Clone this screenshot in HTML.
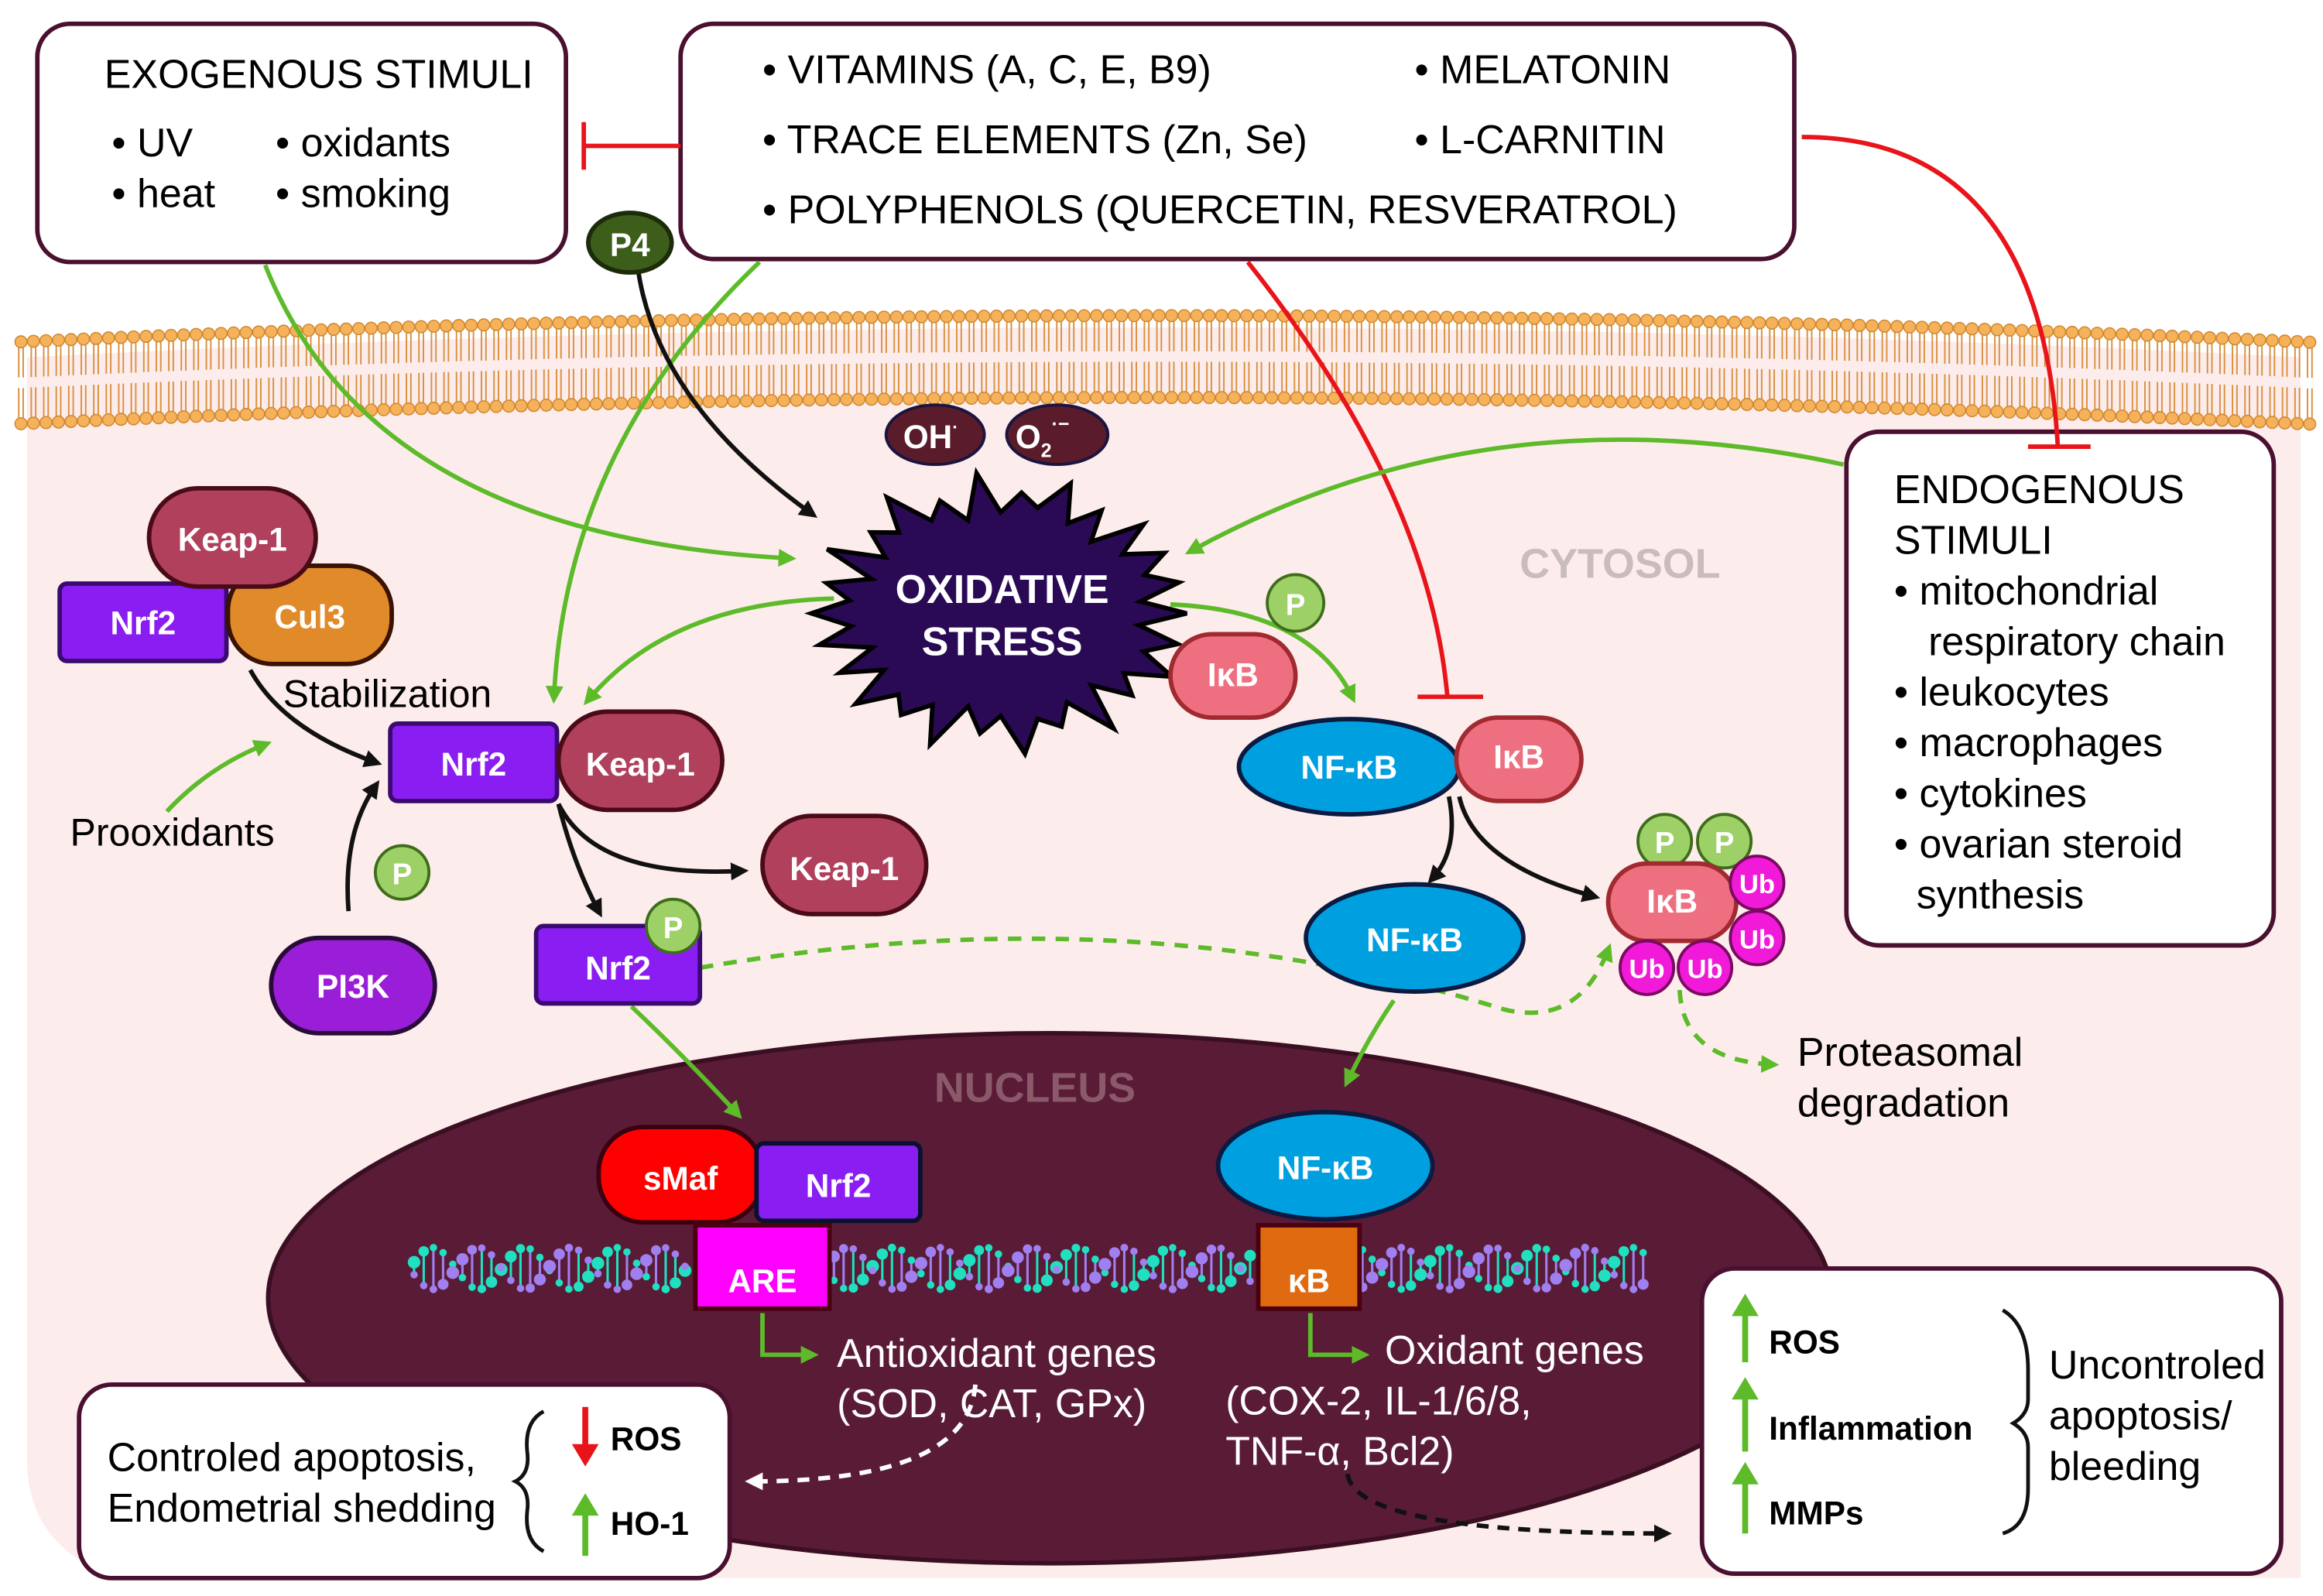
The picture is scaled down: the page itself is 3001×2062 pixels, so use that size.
<!DOCTYPE html>
<html><head><meta charset="utf-8"><style>
html,body{margin:0;padding:0;background:#fff}
svg{display:block}
text{font-family:"Liberation Sans",Arial,sans-serif}
.b{font-weight:bold}
</style></head><body>
<svg id="s" width="3001" height="2062" viewBox="0 0 1560 1072" xmlns="http://www.w3.org/2000/svg">
<defs>
<marker id="ag" viewBox="0 0 10 10" refX="6" refY="5" markerWidth="4" markerHeight="4" orient="auto"><path d="M0,0L10,5L0,10z" fill="#5dbb2a"/></marker>
<marker id="ak" viewBox="0 0 10 10" refX="6" refY="5" markerWidth="4" markerHeight="4" orient="auto"><path d="M0,0L10,5L0,10z" fill="#111"/></marker>
<marker id="aw" viewBox="0 0 10 10" refX="6" refY="5" markerWidth="4" markerHeight="4" orient="auto"><path d="M0,0L10,5L0,10z" fill="#fff"/></marker>
</defs>
<path d="M18,240 Q780,200 1545,240 L1545,1060 L80,1060 Q18,1040 18,980 Z" fill="#fdecec"/>
<g id="mem"></g>
<ellipse cx="705" cy="872" rx="525" ry="178" fill="#5a1b36" stroke="#3a0f22" stroke-width="3"/>
<text x="695" y="740" font-size="28" class="b" fill="#8a5a6a" text-anchor="middle">NUCLEUS</text>
<text x="1088" y="388" font-size="28" class="b" fill="#c9bcbc" text-anchor="middle">CYTOSOL</text>
<g id="dna"></g>

<rect x="25" y="16" width="355" height="160" rx="22" fill="#fff" stroke="#4a1030" stroke-width="3"/>
<g font-size="27">
<text x="70" y="59">EXOGENOUS STIMULI</text>
<text x="75" y="105">• UV</text>
<text x="185" y="105">• oxidants</text>
<text x="75" y="139">• heat</text>
<text x="185" y="139">• smoking</text>
</g>
<rect x="457" y="16" width="748" height="158" rx="22" fill="#fff" stroke="#4a1030" stroke-width="3"/>
<g font-size="27">
<text x="512" y="56">• VITAMINS (A, C, E, B9)</text>
<text x="512" y="103">• TRACE ELEMENTS (Zn, Se)</text>
<text x="512" y="150">• POLYPHENOLS  (QUERCETIN, RESVERATROL)</text>
<text x="950" y="56">• MELATONIN</text>
<text x="950" y="103">• L-CARNITIN</text>
</g>
<rect x="1240" y="290" width="287" height="345" rx="22" fill="#fff" stroke="#4a1030" stroke-width="3"/>
<g font-size="27">
<text x="1272" y="338">ENDOGENOUS</text><text x="1272" y="372">STIMULI</text>
<text x="1272" y="406">• mitochondrial</text><text x="1295" y="440">respiratory chain</text>
<text x="1272" y="474">• leukocytes</text><text x="1272" y="508">• macrophages</text>
<text x="1272" y="542">• cytokines</text><text x="1272" y="576">• ovarian steroid</text>
<text x="1287" y="610">synthesis</text></g>

<g stroke="#e8141a" stroke-width="3" fill="none">
<path d="M457,98 L392,98"/><path d="M392,82 L392,114"/>
<path d="M838,176 Q960,330 972,468"/><path d="M952,468 L996,468"/>
<path d="M1210,92 Q1370,92 1382,300"/><path d="M1362,300 L1404,300"/>
</g>
<g stroke="#5dbb2a" stroke-width="3" fill="none" marker-end="url(#ag)">
<path d="M178,178 Q250,360 530,375"/>
<path d="M510,176 Q380,300 372,468"/>
<path d="M1238,312 Q1000,260 800,370"/>
<path d="M560,402 Q450,405 395,470"/>
<path d="M786,406 Q880,410 908,468"/>
<path d="M112,545 Q140,515 178,500"/>
<path d="M424,676 Q460,710 495,748"/>
<path d="M936,672 Q920,695 905,726"/>
<path d="M512,882 L512,910 L545,910"/>
<path d="M880,882 L880,910 L915,910"/>
</g>
<g stroke="#5dbb2a" stroke-width="3" fill="none" stroke-dasharray="9,7" marker-end="url(#ag)">
<path d="M470,650 Q760,600 1010,678 Q1060,690 1080,638"/>
<path d="M1128,665 Q1130,712 1190,715"/>
</g>
<g stroke="#111" stroke-width="3" fill="none" marker-end="url(#ak)">
<path d="M428,178 Q440,270 545,345"/>
<path d="M168,450 Q190,490 252,512"/>
<path d="M234,612 Q230,560 252,528"/>
<path d="M375,540 Q400,590 498,585"/>
<path d="M375,540 Q385,580 402,612"/>
<path d="M973,535 Q980,570 962,590"/>
<path d="M980,535 Q990,580 1070,602"/>
</g>
<g stroke-width="3" fill="none" stroke-dasharray="8,6">
<path d="M655,930 Q650,995 505,995" stroke="#fff" marker-end="url(#aw)"/>
<path d="M905,990 Q910,1030 1118,1030" stroke="#111" marker-end="url(#ak)"/>
</g>

<ellipse cx="423" cy="163" rx="28" ry="20" fill="#3d5d1a" stroke="#1c2b0a" stroke-width="3"/>
<text x="423" y="172" font-size="22" class="b" fill="#fff" text-anchor="middle">P4</text>
<ellipse cx="628" cy="292" rx="33" ry="20" fill="#5a1b2a" stroke="#1a1440" stroke-width="2"/>
<text x="625" y="301" font-size="22" class="b" fill="#fff" text-anchor="middle">OH<tspan font-size="12" dy="-10">·</tspan></text>
<ellipse cx="710" cy="292" rx="34" ry="20" fill="#5a1b2a" stroke="#1a1440" stroke-width="2"/>
<text x="700" y="301" font-size="22" class="b" fill="#fff" text-anchor="middle">O<tspan font-size="13" dy="6">2</tspan><tspan font-size="13" dy="-18">·−</tspan></text>
<path id="star" fill="#2a0a55" stroke="#000" stroke-width="3"/>
<text x="673" y="405" font-size="27" class="b" fill="#fff" text-anchor="middle">OXIDATIVE</text>
<text x="673" y="440" font-size="27" class="b" fill="#fff" text-anchor="middle">STRESS</text>

<rect x="40" y="392" width="112" height="52" rx="5" fill="#8a1ef2" stroke="#3a0a70" stroke-width="3"/>
<text x="96" y="426" font-size="22" class="b" fill="#fff" text-anchor="middle">Nrf2</text>
<rect x="153" y="380" width="110" height="66" rx="30" fill="#e08a2a" stroke="#3a1200" stroke-width="3"/>
<text x="208" y="422" font-size="22" class="b" fill="#fff" text-anchor="middle">Cul3</text>
<rect x="100" y="328" width="112" height="66" rx="33" fill="#b0405c" stroke="#4a0a18" stroke-width="3"/>
<text x="156" y="370" font-size="22" class="b" fill="#fff" text-anchor="middle">Keap-1</text>
<text x="190" y="475" font-size="26">Stabilization</text>
<text x="47" y="568" font-size="26">Prooxidants</text>
<circle cx="270" cy="586" r="18" fill="#9ed068" stroke="#3d6d1a" stroke-width="2"/><text x="270" y="594" font-size="20" class="b" fill="#fff" text-anchor="middle">P</text>
<rect x="182" y="630" width="110" height="64" rx="32" fill="#9a1ed8" stroke="#2a0a3a" stroke-width="3"/>
<text x="237" y="670" font-size="22" class="b" fill="#fff" text-anchor="middle">PI3K</text>

<rect x="262" y="486" width="112" height="52" rx="5" fill="#8a1ef2" stroke="#3a0a70" stroke-width="3"/>
<text x="318" y="521" font-size="22" class="b" fill="#fff" text-anchor="middle">Nrf2</text>
<rect x="375" y="478" width="110" height="66" rx="33" fill="#b0405c" stroke="#4a0a18" stroke-width="3"/>
<text x="430" y="521" font-size="22" class="b" fill="#fff" text-anchor="middle">Keap-1</text>
<rect x="512" y="548" width="110" height="66" rx="33" fill="#b0405c" stroke="#4a0a18" stroke-width="3"/>
<text x="567" y="591" font-size="22" class="b" fill="#fff" text-anchor="middle">Keap-1</text>
<rect x="360" y="622" width="110" height="52" rx="5" fill="#8a1ef2" stroke="#3a0a70" stroke-width="3"/>
<text x="415" y="658" font-size="22" class="b" fill="#fff" text-anchor="middle">Nrf2</text>
<circle cx="452" cy="622" r="18" fill="#9ed068" stroke="#3d6d1a" stroke-width="2"/><text x="452" y="630" font-size="20" class="b" fill="#fff" text-anchor="middle">P</text>

<circle cx="870" cy="405" r="19" fill="#9ed068" stroke="#3d6d1a" stroke-width="2"/><text x="870" y="413" font-size="20" class="b" fill="#fff" text-anchor="middle">P</text>
<rect x="786" y="426" width="84" height="56" rx="28" fill="#ee7080" stroke="#a02a30" stroke-width="3"/>
<text x="828" y="461" font-size="22" class="b" fill="#fff" text-anchor="middle">IκB</text>
<ellipse cx="906" cy="515" rx="74" ry="32" fill="#00a0e0" stroke="#0a1a40" stroke-width="3"/>
<text x="906" y="523" font-size="22" class="b" fill="#fff" text-anchor="middle">NF-κB</text>
<rect x="978" y="482" width="84" height="56" rx="28" fill="#ee7080" stroke="#a02a30" stroke-width="3"/>
<text x="1020" y="516" font-size="22" class="b" fill="#fff" text-anchor="middle">IκB</text>
<ellipse cx="950" cy="630" rx="73" ry="36" fill="#00a0e0" stroke="#0a1a40" stroke-width="3"/>
<text x="950" y="639" font-size="22" class="b" fill="#fff" text-anchor="middle">NF-κB</text>
<circle cx="1118" cy="565" r="18" fill="#9ed068" stroke="#3d6d1a" stroke-width="2"/><text x="1118" y="573" font-size="20" class="b" fill="#fff" text-anchor="middle">P</text>
<circle cx="1158" cy="565" r="18" fill="#9ed068" stroke="#3d6d1a" stroke-width="2"/><text x="1158" y="573" font-size="20" class="b" fill="#fff" text-anchor="middle">P</text>
<rect x="1080" y="580" width="86" height="52" rx="26" fill="#ee7080" stroke="#a02a30" stroke-width="3"/>
<text x="1123" y="613" font-size="22" class="b" fill="#fff" text-anchor="middle">IκB</text>
<g fill="#f01ad8" stroke="#7a0a60" stroke-width="2">
<circle cx="1180" cy="593" r="18"/><circle cx="1180" cy="630" r="18"/><circle cx="1145" cy="650" r="18"/><circle cx="1106" cy="650" r="18"/></g>
<g font-size="18" class="b" fill="#fff" text-anchor="middle"><text x="1180" y="600">Ub</text><text x="1180" y="637">Ub</text><text x="1145" y="657">Ub</text><text x="1106" y="657">Ub</text></g>
<text x="1207" y="716" font-size="27">Proteasomal</text>
<text x="1207" y="750" font-size="27">degradation</text>

<rect x="402" y="757" width="110" height="64" rx="30" fill="#f00" stroke="#3a0010" stroke-width="3"/>
<text x="457" y="799" font-size="22" class="b" fill="#fff" text-anchor="middle">sMaf</text>
<rect x="508" y="768" width="110" height="52" rx="5" fill="#8a1ef2" stroke="#0a1030" stroke-width="3"/>
<text x="563" y="804" font-size="22" class="b" fill="#fff" text-anchor="middle">Nrf2</text>
<rect x="467" y="823" width="90" height="56" fill="#ff00ff" stroke="#4a0010" stroke-width="3"/>
<text x="512" y="868" font-size="22" class="b" fill="#fff" text-anchor="middle">ARE</text>
<ellipse cx="890" cy="783" rx="72" ry="36" fill="#00a0e0" stroke="#0a1a40" stroke-width="3"/>
<text x="890" y="792" font-size="22" class="b" fill="#fff" text-anchor="middle">NF-κB</text>
<rect x="845" y="823" width="68" height="56" fill="#e06a10" stroke="#4a0010" stroke-width="3"/>
<text x="879" y="868" font-size="22" class="b" fill="#fff" text-anchor="middle">κB</text>
<g font-size="27" fill="#fff">
<text x="562" y="918">Antioxidant genes</text><text x="562" y="952">(SOD, CAT, GPx)</text>
<text x="930" y="916">Oxidant genes</text><text x="823" y="950">(COX-2, IL-1/6/8,</text><text x="823" y="984">TNF-α, Bcl2)</text>
</g>

<rect x="53" y="930" width="437" height="130" rx="22" fill="#fff" stroke="#4a1030" stroke-width="3"/>
<text x="72" y="988" font-size="27">Controled apoptosis,</text>
<text x="72" y="1022" font-size="27">Endometrial shedding</text>
<path d="M365,948 Q352,955 354,975 Q356,990 346,995 Q356,1000 354,1015 Q352,1035 365,1042" fill="none" stroke="#111" stroke-width="2.5"/>
<path d="M393,945 L393,975" stroke="#e8141a" stroke-width="4"/><path d="M384,970 L393,985 L402,970z" fill="#e8141a"/>
<text x="410" y="974" font-size="22" class="b">ROS</text>
<path d="M393,1045 L393,1015" stroke="#5dbb2a" stroke-width="4"/><path d="M384,1018 L393,1003 L402,1018z" fill="#5dbb2a"/>
<text x="410" y="1031" font-size="22" class="b">HO-1</text>

<rect x="1143" y="852" width="389" height="205" rx="22" fill="#fff" stroke="#4a1030" stroke-width="3"/>
<g stroke="#5dbb2a" stroke-width="4"><path d="M1172,915 L1172,880"/><path d="M1172,975 L1172,935"/><path d="M1172,1030 L1172,992"/></g>
<g fill="#5dbb2a"><path d="M1163,884 L1172,869 L1181,884z"/><path d="M1163,940 L1172,925 L1181,940z"/><path d="M1163,997 L1172,982 L1181,997z"/></g>
<g font-size="22" class="b"><text x="1188" y="909">ROS</text><text x="1188" y="967">Inflammation</text><text x="1188" y="1024">MMPs</text></g>
<path d="M1345,880 Q1362,890 1362,920 L1362,940 Q1362,950 1352,956 Q1362,962 1362,972 L1362,1000 Q1362,1025 1345,1030" fill="none" stroke="#111" stroke-width="2.5"/>
<g font-size="27"><text x="1376" y="926">Uncontroled</text><text x="1376" y="960">apoptosis/</text><text x="1376" y="994">bleeding</text></g>
</svg>
<script>
var NS="http://www.w3.org/2000/svg";
function el(p,t,a){var e=document.createElementNS(NS,t);for(var k in a)e.setAttribute(k,a[k]);p.appendChild(e);return e;}
var m=document.getElementById("mem");
function ty(x){return 212+0.00003*(x-780)*(x-780);}
for(var x=14;x<=1552;x+=8.4){var y=ty(x);
 el(m,"path",{d:"M"+(x-1.5)+","+(y+4)+" l0,20 M"+(x+1.5)+","+(y+4)+" l0,20 M"+(x-1.5)+","+(y+31)+" l0,20 M"+(x+1.5)+","+(y+31)+" l0,20",stroke:"#d89040","stroke-width":"1",fill:"none"});
 el(m,"circle",{cx:x,cy:y,r:4,fill:"#f6b25a",stroke:"#d08830","stroke-width":"0.8"});
 el(m,"circle",{cx:x,cy:y+55,r:4,fill:"#f6b25a",stroke:"#d08830","stroke-width":"0.8"});}
var d=document.getElementById("dna");
function seg(a,b){for(var x=a;x<=b;x+=6.5){var ph=(x-275)/62*2*Math.PI;var s=Math.sin(ph),c=Math.cos(ph);var y1=852-14*s,y2=852+14*s;
 var r1=2.5+1.8*Math.max(0,c),r2=2.5+1.8*Math.max(0,-c);
 el(d,"line",{x1:x,y1:y1,x2:x,y2:y2,stroke:c>0?"#20e0c0":"#a080f0","stroke-width":"1.6"});
 el(d,"circle",{cx:x,cy:y1,r:r1,fill:"#20e0c0"});el(d,"circle",{cx:x,cy:y2,r:r2,fill:"#a080f0"});}}
seg(278,466);seg(560,843);seg(915,1108);
var st=document.getElementById("star"),pts=[];var N=26;
for(var i=0;i<N*2;i++){var a=i/(N*2)*2*Math.PI;var o=(i%2==0)?1.0+0.08*Math.sin(i*1.7):0.78+0.05*Math.cos(i*2.3);
 pts.push((672+125*o*Math.cos(a)).toFixed(1)+","+(412+88*o*Math.sin(a)).toFixed(1));}
st.setAttribute("d","M"+pts.join("L")+"Z");
</script>
</body></html>
